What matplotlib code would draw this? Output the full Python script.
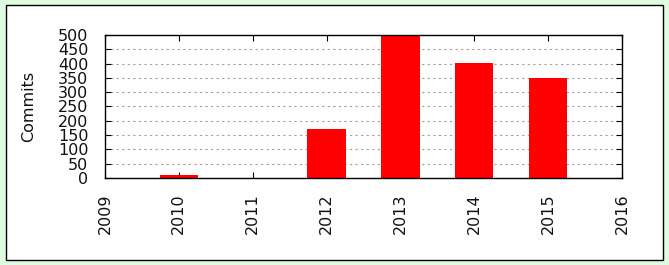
import numpy as np
import matplotlib.pyplot as plt
from matplotlib.patches import Rectangle

years = [2010, 2011, 2012, 2013, 2014, 2015]
commits = [12, 0, 172, 500, 403, 351]
xticks = [2009, 2010, 2011, 2012, 2013, 2014, 2015, 2016]
yticks = [0, 50, 100, 150, 200, 250, 300, 350, 400, 450, 500]

fig = plt.figure(figsize=(6.69, 2.65), dpi=100)
fig.patch.set_facecolor('#e0fce0')
# white panel with a thin dark border, behind the axes
fig.patches.append(Rectangle((6/669, 5/265), 657/669, 255/265, transform=fig.transFigure,
                             facecolor='white', edgecolor='black', linewidth=1.0, zorder=-1))

ax = fig.add_axes([105/669, 1 - 178/265, 517/669, 143/265])
ax.bar(years, commits, width=0.52, color='#ff0000', zorder=2)
ax.set_xlim(2009, 2016)
ax.set_ylim(0, 500)
ax.set_xticks(xticks)
ax.set_yticks(yticks)
ax.set_xticklabels([str(x) for x in xticks], rotation=90)
ax.tick_params(direction='in', top=True, right=True, length=4, labelsize=11.5,
               labelcolor='#111111')
ax.tick_params(axis='x', pad=11)
ax.tick_params(axis='y', pad=12)
ax.yaxis.grid(True, linestyle=(0, (2, 3)), color='#a0a0a0', linewidth=0.8)
ax.set_axisbelow(True)
for s in ax.spines.values():
    s.set_linewidth(1.0)
ax.set_ylabel('Commits', fontsize=11.5, color='#111111')
ax.yaxis.set_label_coords(-0.133, 0.5)

fig.savefig('out.png', dpi=100, facecolor=fig.get_facecolor())
